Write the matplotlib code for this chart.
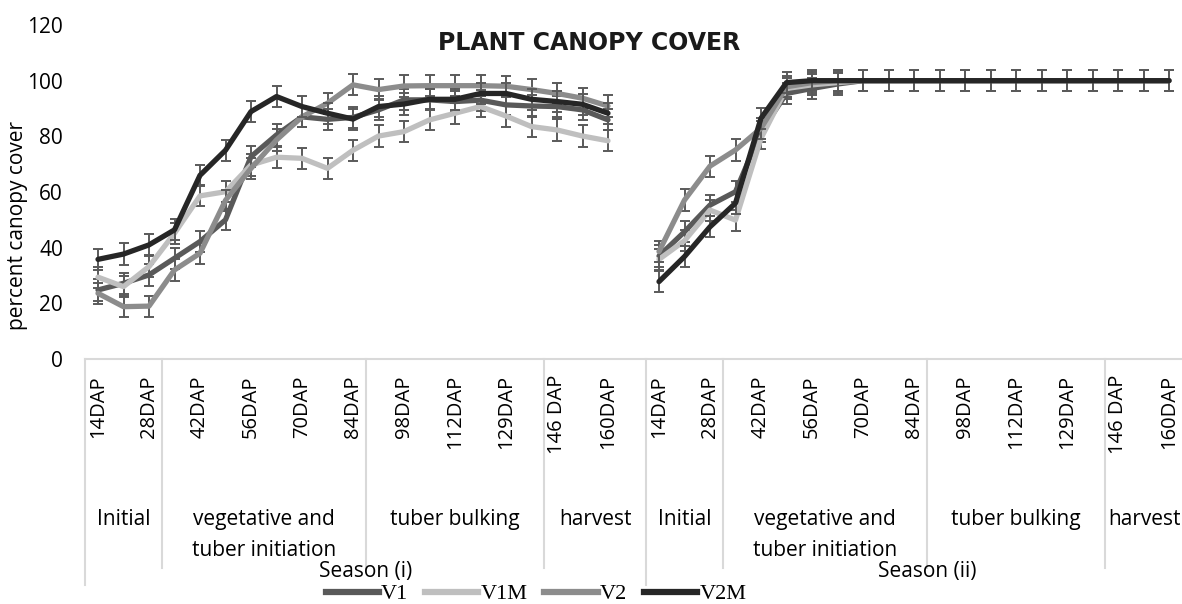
import matplotlib
matplotlib.use("Agg")
import matplotlib.pyplot as plt
import matplotlib.transforms as mtransforms
from matplotlib.lines import Line2D

# ---------------- data ----------------
tick_labels = ["14DAP", "", "28DAP", "", "42DAP", "", "56DAP", "", "70DAP", "", "84DAP", "",
               "98DAP", "", "112DAP", "", "129DAP", "", "146 DAP", "", "160DAP", ""]
stages = ["Initial", "vegetative and\ntuber initiation", "tuber bulking", "harvest"]
stage_sizes = [3, 8, 7, 4]
seasons = ["Season (i)", "Season (ii)"]
series_names = ["V1", "V1M", "V2", "V2M"]

v1_s1 = [24.8, 27.2, 30.2, 36.2, 42.2, 50.0, 72.7, 80.5, 87.0, 86.1, 86.8,
         89.5, 93.1, 93.1, 92.5, 93.0, 91.3, 90.9, 90.7, 89.5, 85.9]
v1m_s1 = [29.4, 26.0, 33.2, 45.2, 58.6, 60.1, 69.7, 72.5, 72.1, 68.5, 75.0,
          80.1, 81.7, 85.9, 88.3, 90.7, 87.3, 83.5, 82.3, 80.1, 78.4]
v2_s1 = [23.6, 18.8, 19.0, 32.0, 38.0, 57.0, 68.5, 78.7, 87.0, 91.9, 98.5,
         96.8, 98.1, 98.2, 98.2, 98.2, 98.0, 96.8, 95.4, 93.7, 90.9]
v2m_s1 = [35.8, 37.7, 41.0, 46.4, 66.0, 75.0, 88.9, 94.3, 90.7, 88.3, 86.2,
          90.7, 91.6, 93.3, 93.3, 95.4, 95.4, 93.3, 92.5, 91.5, 88.3]

v1_s2 = [37.0, 45.7, 55.3, 60.1, 81.7, 95.4, 97.2, 98.8, 100, 100, 100,
         100, 100, 100, 100, 100, 100, 100, 100, 100, 100]
v1m_s2 = [35.8, 42.5, 53.5, 49.9, 79.3, 97.2, 98.5, 99.3, 100, 100, 100,
          100, 100, 100, 100, 100, 100, 100, 100, 100, 100]
v2_s2 = [38.6, 57.1, 69.3, 75.1, 82.9, 97.8, 99.3, 100, 100, 100, 100,
         100, 100, 100, 100, 100, 100, 100, 100, 100, 100]
v2m_s2 = [27.8, 36.8, 47.5, 56.0, 86.5, 99.3, 100, 100, 100, 100, 100,
          100, 100, 100, 100, 100, 100, 100, 100, 100, 100]

error_half = 3.8

# ---------------- figure ----------------
W, H = 1182, 604
fig = plt.figure(figsize=(W / 100, H / 100), dpi=100)
slot_px = 25.5
n_season_slots = len(tick_labels)
n_slots = n_season_slots * len(seasons)
ax_left_px = 85.25
ax_bottom_px = 359
ax_top_px = 25
ax = fig.add_axes([ax_left_px / W, 1 - ax_bottom_px / H,
                   n_slots * slot_px / W, (ax_bottom_px - ax_top_px) / H])
ax.set_xlim(-0.5, n_slots - 0.5)
ax.set_ylim(0, 120)
ax.set_yticks(range(0, 121, 20))
ax.tick_params(axis="y", length=0, pad=16, labelsize=15, labelcolor="black")
for lab in ax.get_yticklabels():
    lab.set_fontfamily("Open Sans")
ax.set_xticks([])
for s in ["left", "right", "top"]:
    ax.spines[s].set_visible(False)
ax.spines["bottom"].set_color("#d9d9d9")
ax.spines["bottom"].set_linewidth(1.5)

colors = ["#595959", "#bfbfbf", "#8c8c8c", "#262626"]
data_s1 = [v1_s1, v1m_s1, v2_s1, v2m_s1]
data_s2 = [v1_s2, v1m_s2, v2_s2, v2m_s2]
x1 = list(range(len(v1_s1)))
x2 = [n_season_slots + i for i in range(len(v1_s2))]

for k, (name, c) in enumerate(zip(series_names, colors)):
    for xs, ys in ((x1, data_s1[k]), (x2, data_s2[k])):
        ax.errorbar(xs, ys, yerr=error_half, fmt="none", ecolor="#5a5a5a",
                    elinewidth=1.4, capsize=3.8, capthick=1.4, zorder=2 + k * 2,
                    clip_on=False)
        ax.plot(xs, ys, color=c, lw=3.8, solid_capstyle="round",
                solid_joinstyle="round", zorder=3 + k * 2, clip_on=False)

# ---------------- category axis ----------------
tr = mtransforms.blended_transform_factory(ax.transData, fig.transFigure)
font = "Open Sans"
line_col = "#d9d9d9"

def fy(px):
    return 1 - px / H

for si, season in enumerate(seasons):
    off = si * n_season_slots
    for i, lab in enumerate(tick_labels):
        if lab:
            ax.text(off + i, fy(375), lab, transform=tr, rotation=90,
                    ha="center", va="top", fontsize=14.5, family=font)
    start = off
    for st, size in zip(stages, stage_sizes):
        cx = start + (size - 1) / 2
        if si == 1 and st == "harvest":
            cx = start + 1.05
        ax.text(cx, fy(509), st, transform=tr, ha="center", va="top",
                fontsize=15, family=font, linespacing=1.6)
        if start != off:
            ax.add_line(Line2D([start - 0.5, start - 0.5], [fy(359), fy(568)],
                               transform=tr, color=line_col, lw=1.5, clip_on=False))
        start += size
    ax.add_line(Line2D([off - 0.5, off - 0.5], [fy(359), fy(585)],
                       transform=tr, color=line_col, lw=1.5, clip_on=False))
    ax.text(off + (n_season_slots - 1) / 2, fy(571), season, transform=tr,
            ha="center", va="center", fontsize=15, family=font)

# ---------------- labels ----------------
fig.text(18 / W, fy(225), "percent canopy cover", rotation=90, ha="center",
         va="center", fontsize=15, family=font)
fig.text(589 / W, fy(43), "PLANT CANOPY COVER", ha="center", va="center",
         fontsize=17, fontweight="bold", family="DejaVu Sans", color="#1a1a1a")

handles = [Line2D([], [], color=c, lw=4.5) for c in colors]
fig.legend(handles, series_names, loc="center", bbox_to_anchor=(536 / W, fy(594)),
           ncol=4, frameon=False, handlelength=2.4, handletextpad=0.1,
           columnspacing=0.75, prop={"family": "Liberation Serif", "size": 16},
           borderpad=0, borderaxespad=0)

fig.savefig("out.png", dpi=100)
